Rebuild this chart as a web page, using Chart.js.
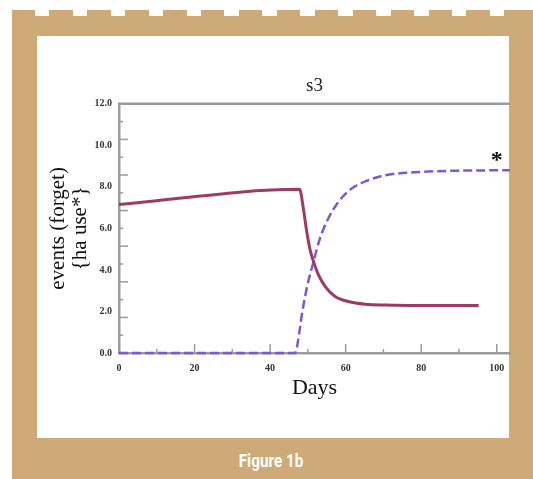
<!DOCTYPE html>
<html>
<head>
<meta charset="utf-8">
<script src="https://cdn.jsdelivr.net/npm/chart.js@4"></script>
<style>
  html, body { margin:0; padding:0; background:#fff; width:533px; height:479px; overflow:hidden; }
  #frame { position:absolute; left:12px; top:10px; width:521px; height:469px; background:#CFAA79; }
  #notches { position:absolute; left:35px; top:10px; width:470px; height:6px;
    background: repeating-linear-gradient(90deg, #fff 0 14.5px, transparent 14.5px 37.9px); }
  #panel { position:absolute; left:37px; top:36px; width:472px; height:402px; background:#fff; }
  #caption { position:absolute; left:12px; width:519px; top:450px; text-align:center; }
  #caption span { display:inline-block; color:#fff; transform:scaleX(0.85); transform-origin:center;
    font: bold 18px "Roboto", "Liberation Sans", sans-serif; }
  #c { position:absolute; left:0; top:0; }
</style>
</head>
<body>
<div id="frame"></div>
<div id="notches"></div>
<div id="panel"></div>
<div id="caption"><span>Figure 1b</span></div>
<canvas id="c" width="533" height="479"></canvas>
<script>
// ---- data ----
const chartTitle = 's3';
const xTitle = 'Days';
const yTitle = ['events (forget)', '{ha use*}'];
const xTickValues = [0, 20, 40, 60, 80, 100];
const yTickValues = [0, 2, 4, 6, 8, 10, 12];

const forgetDays   = [0, 47.8, 48.8, 49.7, 50.6, 51.5, 52.8, 54.6, 57.2, 60.7, 65.2, 70.5, 80, 95.2];
const forgetValues = [7.15, 7.88, 6.96, 5.84, 4.96, 4.40, 3.76, 3.20, 2.72, 2.48, 2.35, 2.31, 2.29, 2.29];

const haUseDays   = [0, 46.6, 47.9, 48.4, 49.7, 51.5, 53.2, 55.4, 58.1, 61.6, 66, 70.5, 79.7, 90, 103.5];
const haUseValues = [0, 0, 1.2, 1.84, 3.12, 4.40, 5.52, 6.48, 7.28, 7.92, 8.32, 8.56, 8.72, 8.78, 8.80];

const toPoints = (xs, ys) => xs.map((x, i) => ({ x: x, y: ys[i] }));

const axisGray = '#9b9b9b';
const serif = '"Liberation Serif", "Times New Roman", serif';

const decorPlugin = {
  id: 'decor',
  beforeDatasetsDraw(chart) {
    const { ctx, chartArea: a, scales: { x, y } } = chart;
    ctx.save();
    ctx.strokeStyle = axisGray;
    ctx.lineWidth = 2.5;
    // top frame line
    ctx.beginPath();
    ctx.moveTo(a.left - 1, a.top);
    ctx.lineTo(a.right, a.top);
    ctx.stroke();
    ctx.lineWidth = 1.5;
    // x inner ticks every 10 days
    for (let v = 10; v <= 100; v += 10) {
      const px = x.getPixelForValue(v);
      const len = (v % 20 === 0) ? 9 : 4;
      ctx.beginPath();
      ctx.moveTo(px, a.bottom);
      ctx.lineTo(px, a.bottom - len);
      ctx.stroke();
    }
    // y inner ticks (14 subdivisions as on the original axis)
    for (let k = 1; k < 14; k++) {
      const py = y.getPixelForValue(k * 12 / 14);
      const len = (k % 2 === 0) ? 9 : 4;
      ctx.beginPath();
      ctx.moveTo(a.left, py);
      ctx.lineTo(a.left + len, py);
      ctx.stroke();
    }
    ctx.restore();
  },
  afterDraw(chart) {
    const { ctx, scales: { x, y } } = chart;
    ctx.save();
    ctx.fillStyle = '#111';
    ctx.font = 'bold 24px ' + serif;
    ctx.textAlign = 'center';
    ctx.textBaseline = 'middle';
    ctx.fillText('*', x.getPixelForValue(100), y.getPixelForValue(9.25));
    ctx.restore();
  }
};

new Chart(document.getElementById('c'), {
  type: 'line',
  data: {
    datasets: [
      {
        label: 'events (forget)',
        data: toPoints(forgetDays, forgetValues),
        borderColor: '#9E3B63',
        borderWidth: 3,
        pointRadius: 0,
        cubicInterpolationMode: 'monotone',
        clip: false
      },
      {
        label: '{ha use*}',
        data: toPoints(haUseDays, haUseValues),
        borderColor: '#7A5ACD',
        borderWidth: 2.5,
        borderDash: [9, 4],
        pointRadius: 0,
        cubicInterpolationMode: 'monotone',
        clip: false
      }
    ]
  },
  options: {
    responsive: false,
    animation: false,
    layout: { padding: { top: 75, left: 40, right: 23, bottom: 76 } },
    plugins: {
      legend: { display: false },
      tooltip: { enabled: false },
      title: {
        display: true,
        text: chartTitle,
        fullSize: false,
        color: '#222',
        font: { family: serif, size: 19, weight: 'normal', lineHeight: 1.2 },
        padding: { top: 0, bottom: 6 }
      }
    },
    scales: {
      x: {
        type: 'linear',
        min: 0,
        max: 103.5,
        afterBuildTicks: s => { s.ticks = xTickValues.map(v => ({ value: v })); },
        afterFit: s => { s.height = 50; },
        grid: { display: false, drawTicks: false },
        border: { display: true, color: axisGray, width: 2.5 },
        ticks: {
          padding: 9,
          color: '#333',
          maxRotation: 0,
          font: { family: serif, size: 10, weight: 'bold' },
          callback: v => String(v)
        },
        title: {
          display: true,
          text: xTitle,
          color: '#111',
          font: { family: serif, size: 22, weight: 'normal', lineHeight: 1.2 },
          padding: { top: 0, bottom: 2 }
        }
      },
      y: {
        type: 'linear',
        min: 0,
        max: 12,
        afterBuildTicks: s => { s.ticks = yTickValues.map(v => ({ value: v })); },
        afterFit: s => { s.width = 79; },
        grid: { display: false, drawTicks: false },
        border: { display: true, color: axisGray, width: 2.5 },
        ticks: {
          padding: 7,
          color: '#333',
          font: { family: serif, size: 10, weight: 'bold' },
          callback: v => Number(v).toFixed(1)
        },
        title: {
          display: true,
          text: yTitle,
          color: '#111',
          font: { family: serif, size: 21, weight: 'normal', lineHeight: '22px' },
          padding: { top: 7, bottom: 0 }
        }
      }
    }
  },
  plugins: [decorPlugin]
});
</script>
</body>
</html>
